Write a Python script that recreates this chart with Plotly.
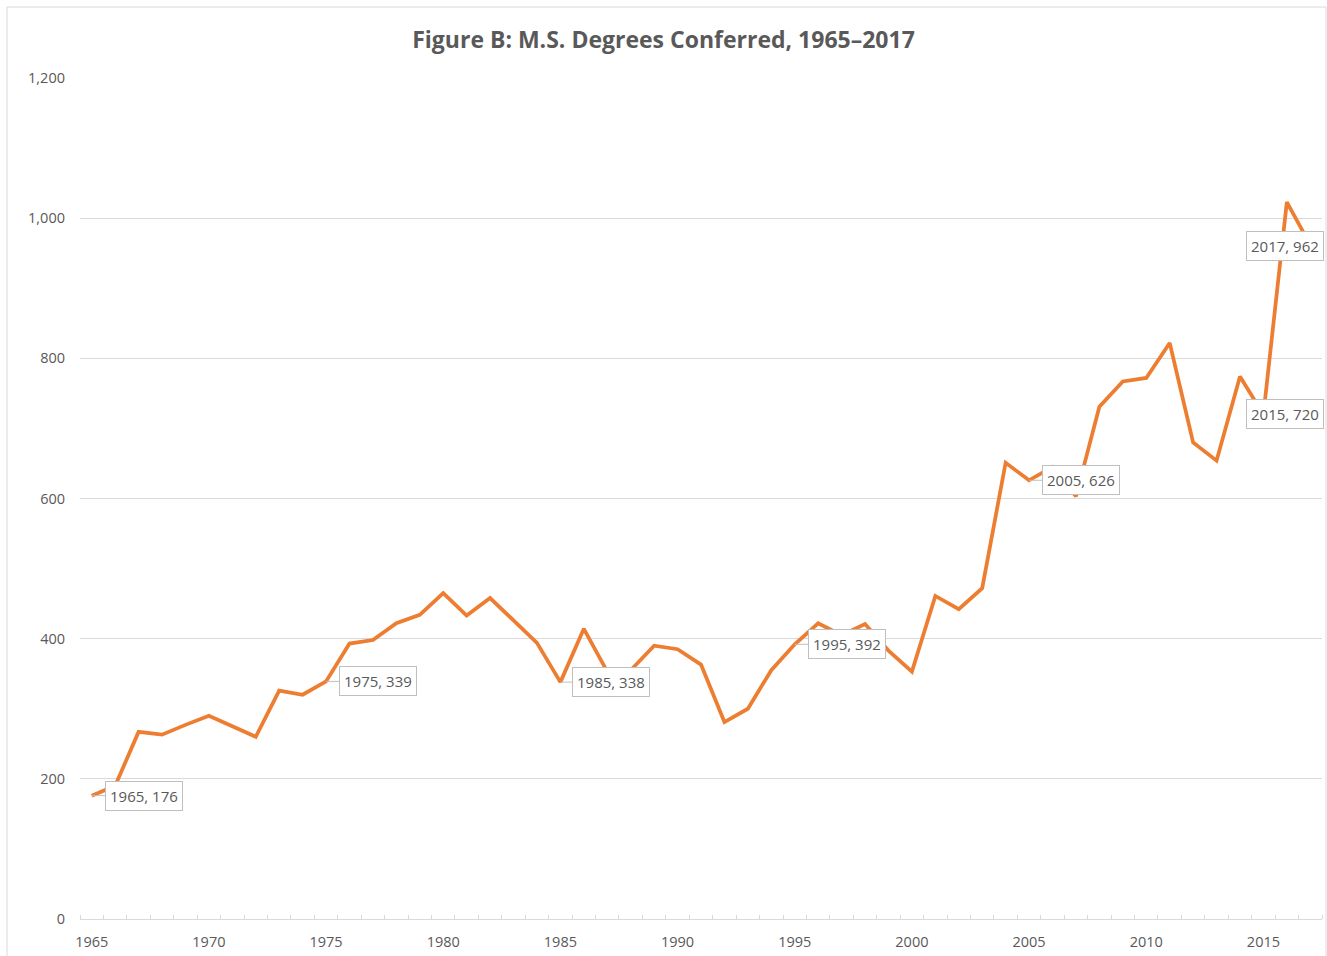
import plotly.graph_objects as go

years = [1965, 1966, 1967, 1968, 1969, 1970, 1971, 1972, 1973, 1974,
         1975, 1976, 1977, 1978, 1979, 1980, 1981, 1982, 1983, 1984,
         1985, 1986, 1987, 1988, 1989, 1990, 1991, 1992, 1993, 1994,
         1995, 1996, 1997, 1998, 1999, 2000, 2001, 2002, 2003, 2004,
         2005, 2006, 2007, 2008, 2009, 2010, 2011, 2012, 2013, 2014,
         2015, 2016, 2017]
degrees = [176, 190, 267, 263, 277, 290, 275, 260, 326, 320,
           339, 393, 398, 422, 434, 465, 433, 458, 426, 394,
           338, 414, 353, 355, 390, 385, 363, 281, 300, 355,
           392, 422, 405, 421, 383, 353, 461, 442, 472, 651,
           626, 645, 603, 731, 767, 772, 822, 680, 654, 774,
           720, 1023, 962]

labeled_years = [1965, 1975, 1985, 1995, 2005, 2015, 2017]
label_offsets = [(52, 0), (52, 0), (51, 0), (52, 0), (52, 0), (22, 0), (-25, 1)]

x_ticks = [1965, 1970, 1975, 1980, 1985, 1990, 1995, 2000, 2005, 2010, 2015]
y_ticks = [0, 200, 400, 600, 800, 1000, 1200]

FONT = "Open Sans"
GREY_TXT = "#595959"
GRID = "#D9D9D9"

fig = go.Figure()
fig.add_trace(go.Scatter(
    x=years, y=degrees, mode="lines",
    line=dict(color="#ED7D31", width=3.75),
    hoverinfo="x+y", showlegend=False,
))

for yr, (ax, ay) in zip(labeled_years, label_offsets):
    v = degrees[years.index(yr)]
    fig.add_annotation(
        x=yr, y=v, xref="x", yref="y",
        text=f"{yr}, {v}",
        showarrow=True, arrowhead=0, arrowwidth=1, arrowcolor="#BFBFBF",
        ax=ax, ay=ay, standoff=0,
        bgcolor="white", bordercolor="#BFBFBF", borderwidth=1, borderpad=4,
        font=dict(family=FONT, size=15, color=GREY_TXT),
    )

# chart frame
fig.add_shape(type="rect", xref="paper", yref="paper",
              x0=(7 - 80) / 1242, x1=(1326 - 80) / 1242,
              y0=(919 - 970) / 841, y1=(919 - 7) / 841,
              line=dict(color=GRID, width=1), fillcolor="rgba(0,0,0,0)", layer="below")

fig.update_layout(
    width=1327, height=956,
    margin=dict(l=80, r=5, t=78, b=37),
    paper_bgcolor="white", plot_bgcolor="white",
    font=dict(family=FONT, color=GREY_TXT),
    title=dict(text="<b>Figure B: M.S. Degrees Conferred, 1965–2017</b>",
               x=0.5, xref="container", xanchor="center",
               y=1 - 40 / 956, yref="container", yanchor="middle",
               font=dict(family=FONT, size=23, color=GREY_TXT)),
    xaxis=dict(
        range=[1964.5, 2017.5], tickvals=x_ticks, ticks="", ticklen=0,
        showgrid=False, zeroline=False,
        showline=True, linecolor=GRID, linewidth=1,
        tickfont=dict(family=FONT, size=14.5, color=GREY_TXT),
        ticklabelstandoff=10,
        minor=dict(tick0=1964.5, dtick=1, ticks="inside", ticklen=4,
                   tickcolor=GRID, tickwidth=1, showgrid=False),
    ),
    yaxis=dict(
        range=[0, 1200], tickvals=y_ticks, tickformat=",",
        showgrid=True, gridcolor=GRID, gridwidth=1,
        zeroline=False, showline=False, ticks="",
        tickfont=dict(family=FONT, size=14.5, color=GREY_TXT),
        ticklabelstandoff=14,
    ),
)

fig.write_html("out.html", config={"displayModeBar": False},
               post_script="document.body.style.margin='0';")
